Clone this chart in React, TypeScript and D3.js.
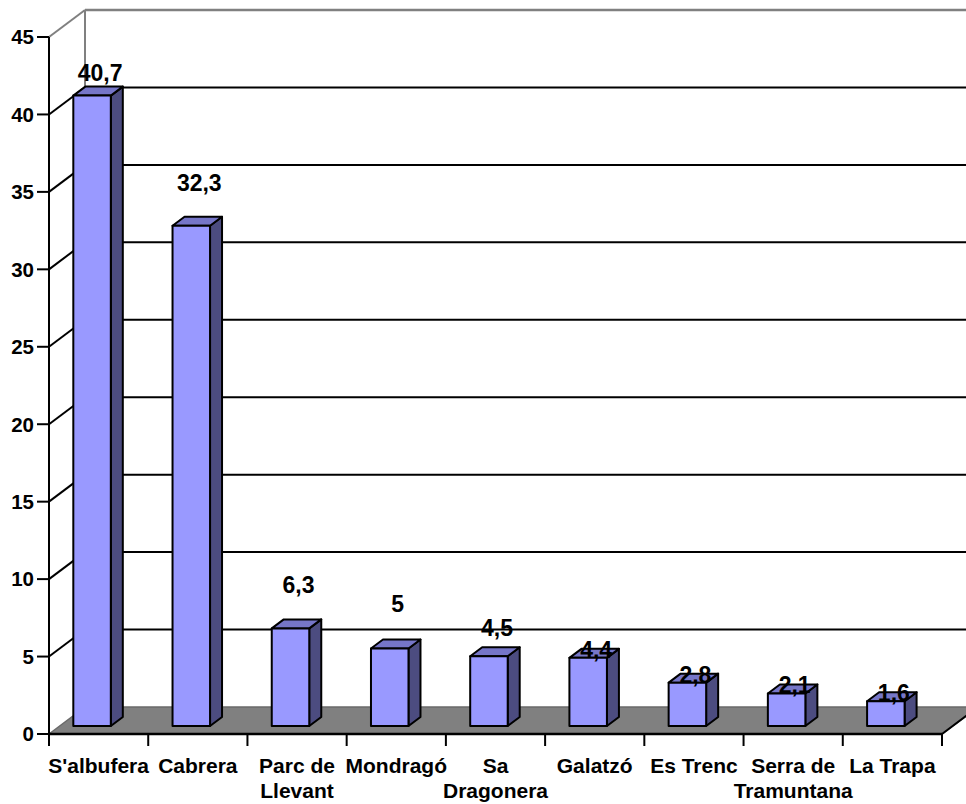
import React from "react";
import * as d3 from "d3";

const categories = ["S'albufera", "Cabrera", "Parc de\nLlevant", "Mondragó", "Sa\nDragonera", "Galatzó", "Es Trenc", "Serra de\nTramuntana", "La Trapa"];
const values = [40.7, 32.3, 6.3, 5, 4.5, 4.4, 2.8, 2.1, 1.6];
const valueLabels = ["40,7", "32,3", "6,3", "5", "4,5", "4,4", "2,8", "2,1", "1,6"];
const yTicks = [0, 5, 10, 15, 20, 25, 30, 35, 40, 45];
// label lift above bar top (px), as placed in the original
const labelLift = [15, 35, 35, 37, 20, 0, 0, 0, 0];

const W = 966, H = 804;
const FONT = "Arial, 'Liberation Sans', sans-serif";

export default function App() {
  const x0 = 49, x1 = 942;
  const y = d3.scaleLinear().domain([0, 45]).range([734, 37]);
  const x = d3.scaleBand<string>().domain(categories).range([x0, x1]).padding(0);
  const bw = x.bandwidth();
  const DX = 36, DY = -27; // wall depth
  const barDepthX = 12, barDepthY = -9;
  const barPlaneDY = -8;
  const barW = bw * 0.378;
  const barOff = bw * 0.245;

  const floor = [
    [x0, y(0)], [x0 + DX, y(0) + DY], [x1 + DX, y(0) + DY], [x1, y(0)]
  ];

  return (
    <svg width={W} height={H} style={{ position: "absolute", left: 0, top: 0, background: "#fff" }} fontFamily={FONT}>
      {/* back wall gridlines */}
      {yTicks.filter(t => t > 0 && t < 45).map(t => (
        <line key={"g" + t} x1={x0 + DX} x2={W} y1={y(t) + DY} y2={y(t) + DY} stroke="#000" strokeWidth={2} />
      ))}
      {/* wall top and left edges */}
      <line x1={x0 + DX} x2={W} y1={y(45) + DY} y2={y(45) + DY} stroke="#808080" strokeWidth={2.5} />
      <line x1={x0 + DX} x2={x0 + DX} y1={y(45) + DY} y2={y(0) + DY} stroke="#808080" strokeWidth={2} />
      {/* side wall diagonals */}
      {yTicks.filter(t => t > 0).map(t => (
        <line key={"d" + t} x1={x0} x2={x0 + DX} y1={y(t)} y2={y(t) + DY} stroke={t === 45 ? "#808080" : "#000"} strokeWidth={2} />
      ))}
      {/* floor */}
      <polygon points={floor.map(p => p.join(",")).join(" ")} fill="#808080" stroke="#6a6a6a" strokeWidth={1.5} />
      <line x1={x1} y1={y(0)} x2={x1 + DX} y2={y(0) + DY} stroke="#000" strokeWidth={2} />

      {/* bars */}
      {categories.map((c, i) => {
        const v = values[i];
        const left = (x(c) as number) + barOff;
        const right = left + barW;
        const bottom = y(0) + barPlaneDY;
        const top = y(v) + barPlaneDY;
        const front = `${left},${top} ${right},${top} ${right},${bottom} ${left},${bottom}`;
        const topFace = `${left},${top} ${left + barDepthX},${top + barDepthY} ${right + barDepthX},${top + barDepthY} ${right},${top}`;
        const side = `${right},${top} ${right + barDepthX},${top + barDepthY} ${right + barDepthX},${bottom + barDepthY} ${right},${bottom}`;
        return (
          <g key={"b" + i} stroke="#000" strokeWidth={2} strokeLinejoin="round">
            <polygon points={side} fill="#4C4C80" />
            <polygon points={topFace} fill="#7676C8" />
            <polygon points={front} fill="#9999FF" />
          </g>
        );
      })}

      {/* data labels */}
      {categories.map((c, i) => {
        const left = (x(c) as number) + barOff;
        const top = y(values[i]) + barPlaneDY;
        return (
          <text key={"l" + i} x={left + barW / 2 + 8} y={top - labelLift[i]} textAnchor="middle" fontSize={23} fontWeight="bold" fill="#000">
            {valueLabels[i]}
          </text>
        );
      })}

      {/* y axis */}
      <line x1={x0} x2={x0} y1={y(45)} y2={y(0) + 12} stroke="#000" strokeWidth={2} />
      {yTicks.map(t => (
        <g key={"yt" + t}>
          <line x1={x0 - 12} x2={x0} y1={y(t)} y2={y(t)} stroke="#000" strokeWidth={2} />
          <text x={x0 - 15} y={y(t)} dy="0.36em" textAnchor="end" fontSize={20.5} fontWeight="bold">{t}</text>
        </g>
      ))}

      {/* x axis */}
      <line x1={x0} x2={x1} y1={y(0)} y2={y(0)} stroke="#000" strokeWidth={2.5} />
      {[...categories.map(c => x(c) as number), x1].map((px, i) => (
        <line key={"xt" + i} x1={px} x2={px} y1={y(0)} y2={y(0) + 12} stroke="#000" strokeWidth={2} />
      ))}
      {categories.map((c, i) => {
        const cx = (x(c) as number) + bw / 2;
        return (
          <text key={"xl" + i} x={cx} y={773} textAnchor="middle" fontSize={21} fontWeight="bold">
            {c.split("\n").map((line, j) => (
              <tspan key={j} x={cx} y={773 + j * 25}>{line}</tspan>
            ))}
          </text>
        );
      })}
    </svg>
  );
}
